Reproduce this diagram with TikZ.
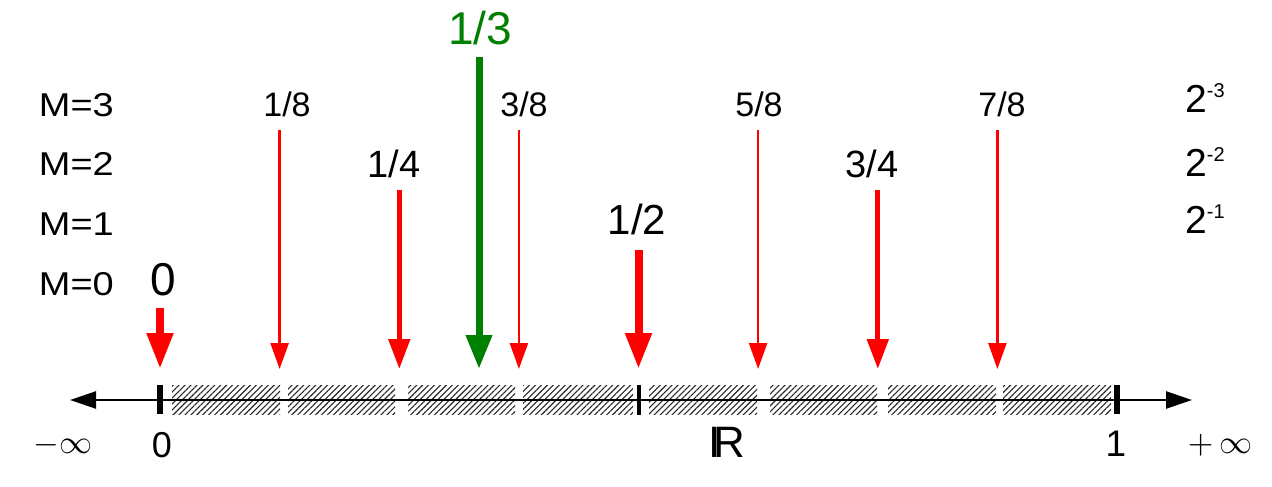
\documentclass[tikz,border=0pt]{standalone}
\usepackage{fontspec}
\setmainfont{Liberation Sans}
\usepackage{graphicx}
\usetikzlibrary{arrows.meta,patterns.meta}

\begin{document}
\begin{tikzpicture}[
  x=1pt, y=-1pt,
  lv/.style={anchor=base east, inner sep=0, font=\fontsize{33}{36}\selectfont},
  pw/.style={anchor=base west, inner sep=0, font=\fontsize{39}{44}\selectfont},
  lb/.style={anchor=base, inner sep=0, text depth=0pt},
  lb8/.style={lb, font=\fontsize{34}{38}\selectfont},
  lb4/.style={lb, font=\fontsize{38}{42}\selectfont},
  lb2/.style={lb, font=\fontsize{42}{46}\selectfont},
  lb0/.style={lb, font=\fontsize{46}{50}\selectfont},
  a8/.style={red, line width=2.5pt, -{Triangle[length=26pt,width=18pt]}, shorten <=14pt},
  a4/.style={red, line width=5pt, -{Triangle[length=30pt,width=21pt]}, shorten <=13pt},
  a2/.style={red, line width=8pt, -{Triangle[length=36pt,width=25pt]}, shorten <=16pt},
  a0/.style={red, line width=8pt, -{Triangle[length=36pt,width=25pt]}, shorten <=13pt},
  a3/.style={green!50!black, line width=7pt, -{Triangle[length=34pt,width=25pt]}, shorten <=12pt},
  hatch/.style={pattern={Lines[angle=45,distance=4.2pt,line width=1.1pt]}, pattern color=black!85},
  tk/.style={line width=6.5pt}
]
\useasboundingbox (0,0) rectangle (1272,487);

% level labels
\node[lv] (m3) at (114,116) {\scalebox{1.15}[1]{M=3}};
\node[lv] (m2) at (114,175) {\scalebox{1.15}[1]{M=2}};
\node[lv] (m1) at (114,235) {\scalebox{1.15}[1]{M=1}};
\node[lv] (m0) at (114,295) {\scalebox{1.15}[1]{M=0}};

\node[pw] (w3) at (1185,113) {2\raisebox{15pt}{\fontsize{20}{22}\selectfont -3}};
\node[pw] (w2) at (1185,176) {2\raisebox{15pt}{\fontsize{20}{22}\selectfont -2}};
\node[pw] (w1) at (1185,233) {2\raisebox{15pt}{\fontsize{20}{22}\selectfont -1}};

% points on the line
\coordinate (p0) at (160,369);
\coordinate (p18) at (279.6,369);
\coordinate (p14) at (399.3,369);
\coordinate (p13) at (479,369);
\coordinate (p38) at (518.9,369);
\coordinate (p12) at (638.5,369);
\coordinate (p58) at (758.1,369);
\coordinate (p34) at (877.8,369);
\coordinate (p78) at (997.4,369);

\node[lb0] (n0) at (163,295) {0};
\node[lb2] (n12) at (637,234) {1/2};
\node[lb4] (n14) at (394,177) {1/4};
\node[lb4] (n34) at (872,177) {3/4};
\node[lb8] (n18) at (287,116) {1/8};
\node[lb8] (n38) at (524,116) {3/8};
\node[lb8] (n58) at (759,116) {5/8};
\node[lb8] (n78) at (1002,116) {7/8};
\node[lb0, text=green!50!black] (n13) at (480,45) {1/3};

% hatched intervals
\fill[hatch] (172,385) rectangle (280,414);
\fill[hatch] (288,385) rectangle (395,414);
\fill[hatch] (408,385) rectangle (515,414);
\fill[hatch] (523,385) rectangle (633,414);
\fill[hatch] (649,385) rectangle (757,414);
\fill[hatch] (770,385) rectangle (877,414);
\fill[hatch] (888,385) rectangle (996,414);
\fill[hatch] (1003,385) rectangle (1111,414);

% real line
\coordinate (lft) at (70,400);
\coordinate (rgt) at (1192,400);
\draw[line width=2.5pt, {Triangle[length=26pt,width=17pt]}-{Triangle[length=26pt,width=17pt]}] (lft) -- (rgt);
\draw[tk] (160,385) -- (160,414);
\draw[line width=4pt] (638.5,385) -- (638.5,415);
\draw[tk] (1117,385) -- (1117,414);

\node[lb, font=\fontsize{36}{40}\selectfont] (b0) at (162,457) {0};
\node[lb, font=\fontsize{37}{40}\selectfont] (b1) at (1116,456) {1};
\node[lb, font=\fontsize{44}{48}\selectfont] (br) at (727,457) {I\kern-.17em R};
\node[lb] (mi) at (63,453) {\scalebox{3.3}{$-\infty$}};
\node[lb] (pi) at (1220,453) {\scalebox{3.3}{$+\,\infty$}};

% arrows
\draw[a0] (p0 |- n0.south) -- (p0);
\draw[a2] (p12 |- n12.south) -- (p12);
\draw[a4] (p14 |- n14.south) -- (p14);
\draw[a4] (p34 |- n34.south) -- (p34);
\draw[a8] (p18 |- n18.south) -- (p18);
\draw[a8] (p38 |- n38.south) -- (p38);
\draw[a8] (p58 |- n58.south) -- (p58);
\draw[a8] (p78 |- n78.south) -- (p78);
\draw[a3] (p13 |- n13.south) -- (p13);
\end{tikzpicture}
\end{document}
